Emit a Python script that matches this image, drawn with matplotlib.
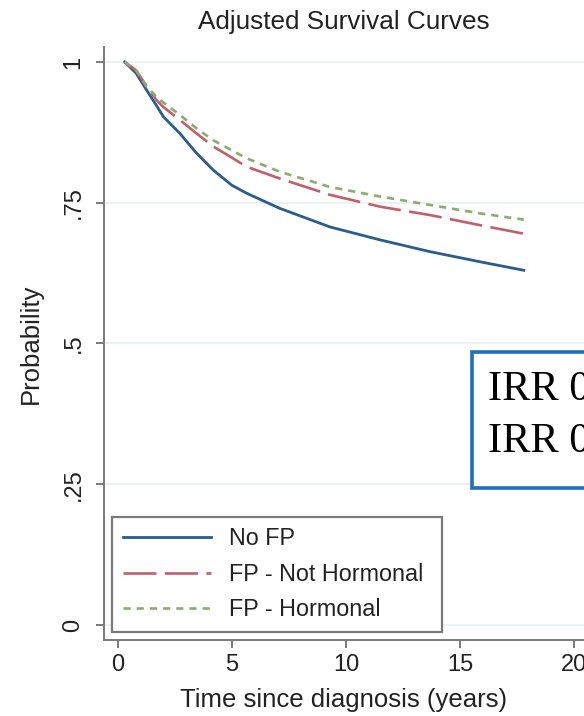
import matplotlib.pyplot as plt
from matplotlib.patches import Rectangle
from matplotlib.lines import Line2D

# values (years, survival probability)
time_years = [0.3, 0.8, 1.26, 1.7, 1.99, 2.72, 3.45, 4.18, 5.0, 5.64,
              7.1, 9.3, 11.5, 13.7, 15.9, 17.8]
no_fp = [1.0, 0.980, 0.950, 0.922, 0.903, 0.873, 0.838, 0.808, 0.781, 0.767,
         0.740, 0.707, 0.684, 0.663, 0.645, 0.630]
fp_not_hormonal = [1.0, 0.985, 0.957, 0.932, 0.920, 0.897, 0.873, 0.850, 0.830, 0.814,
                   0.793, 0.764, 0.743, 0.728, 0.710, 0.695]
fp_hormonal = [1.0, 0.985, 0.956, 0.938, 0.928, 0.906, 0.882, 0.861, 0.843, 0.829,
               0.805, 0.778, 0.761, 0.746, 0.731, 0.720]

series_labels = ['No FP', 'FP - Not Hormonal', 'FP - Hormonal']
y_ticks = [0, 0.25, 0.5, 0.75, 1]
y_tick_labels = ['0', '.25', '.5', '.75', '1']
x_ticks = [0, 5, 10, 15, 20]
irr_lines = ['IRR 0', 'IRR 0']

plt.rcParams['font.family'] = ['Liberation Sans', 'DejaVu Sans']

BLUE = '#2a5c8c'
RED = '#c0606a'
GREEN = '#8aac6c'
AXIS_GREY = '#7a7a7a'
TEXT = '#222222'

RED_DASH = (12.5, 3.2)
GREEN_DASH = (2.7, 2.3)

fig = plt.figure(figsize=(5.84, 7.16), dpi=100)
ax = fig.add_axes([104 / 584, 76 / 716, 480 / 584, 593 / 716])

ax.plot(time_years, no_fp, color=BLUE, lw=2.0)
ax.plot(time_years, fp_not_hormonal, color=RED, lw=1.9, dashes=RED_DASH)
ax.plot(time_years, fp_hormonal, color=GREEN, lw=1.9, dashes=GREEN_DASH)

ax.set_xlim(-0.61, 20.44)
ax.set_ylim(-0.0266, 1.0266)
ax.set_yticks(y_ticks)
ax.set_yticklabels(y_tick_labels, rotation=90, va='center')
ax.set_xticks(x_ticks)
ax.grid(True, axis='y', color='#e6f0f3', lw=1.2)
ax.set_axisbelow(True)

for side in ['top', 'right']:
    ax.spines[side].set_visible(False)
for side in ['left', 'bottom']:
    ax.spines[side].set_color(AXIS_GREY)
    ax.spines[side].set_linewidth(1.4)
ax.tick_params(axis='both', colors=AXIS_GREY, labelcolor=TEXT,
               labelsize=17, length=6, width=1.4)
ax.tick_params(axis='y', pad=8)
ax.tick_params(axis='x', pad=4)

ax.set_ylabel('Probability', fontsize=18.5, color=TEXT, labelpad=14)
ax.set_xlabel('Time since diagnosis (years)', fontsize=18.5, color=TEXT, labelpad=9)
fig.text(344 / 584, 1 - 22 / 716, 'Adjusted Survival Curves', ha='center', va='center',
         fontsize=18.8, color=TEXT)

handles = [Line2D([], [], color=BLUE, lw=2.0),
           Line2D([], [], color=RED, lw=1.9, dashes=RED_DASH),
           Line2D([], [], color=GREEN, lw=1.9, dashes=GREEN_DASH)]
leg = ax.legend(handles, series_labels, loc='lower left', mode='expand',
                bbox_to_anchor=(112 / 584, 84 / 716, 330 / 584, 115 / 716),
                bbox_transform=fig.transFigure, borderaxespad=0, fontsize=16.8,
                handlelength=3.8, handletextpad=0.75, labelspacing=0.54,
                borderpad=0.45, fancybox=False, framealpha=1)
leg.get_frame().set_edgecolor(AXIS_GREY)
leg.get_frame().set_linewidth(1.6)
for t in leg.get_texts():
    t.set_color(TEXT)

# IRR annotation box, partly off the right edge
fig.patches.append(Rectangle((472 / 584, 1 - 488 / 716), 200 / 584, 136 / 716,
                             transform=fig.transFigure, fill=True, facecolor='white',
                             edgecolor='#1f6fc0', lw=2.6, zorder=5))
for i, line in enumerate(irr_lines):
    fig.text(488 / 584, 1 - (400 + 52 * i) / 716, line, ha='left', va='baseline',
             fontsize=30.5, family=['Liberation Serif', 'DejaVu Serif'],
             color='black', zorder=6)

fig.savefig('out.png', dpi=100)
